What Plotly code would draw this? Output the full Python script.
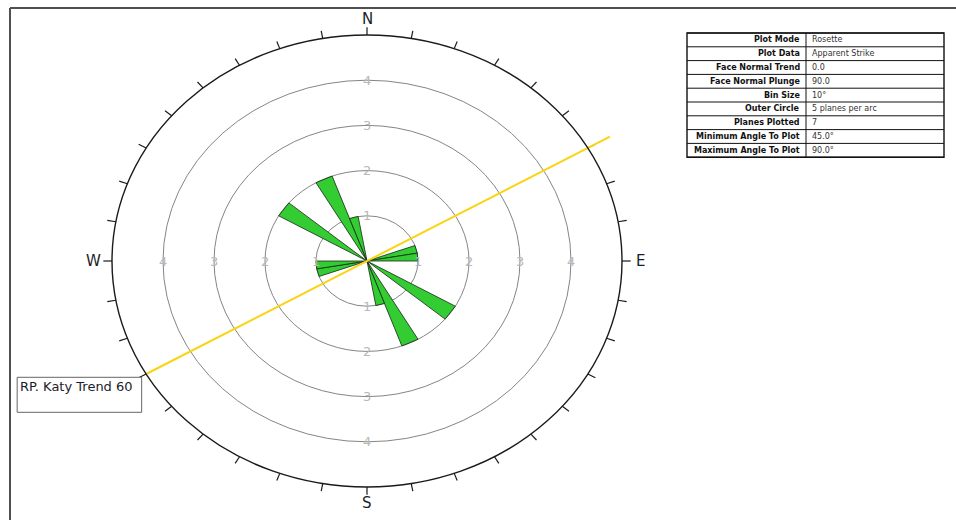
import numpy as np
import plotly.graph_objects as go

# Rosette bins: apparent strike azimuth (deg, start of bin) and number of planes
bin_starts = [70, 80, 300, 330, 340]
bin_counts = [1, 1, 2, 2, 1]
bin_size = 10

# Concentric rings (planes per arc) and outer circle value
ring_values = [1, 2, 3, 4]
outer_value = 5

# Trend line
trend_azimuth = 60
trend_reach = [-5.0, 5.5]
trend_label = "RP. Katy Trend 60"

# Compass
compass_labels = ["N", "E", "S", "W"]
compass_azimuths = [0, 90, 180, 270]
tick_step = 10

# Info table
table_keys = ["Plot Mode", "Plot Data", "Face Normal Trend", "Face Normal Plunge",
              "Bin Size", "Outer Circle", "Planes Plotted",
              "Minimum Angle To Plot", "Maximum Angle To Plot"]
table_values = ["Rosette", "Apparent Strike", "0.0", "90.0", "10°",
                "5 planes per arc", "7", "45.0°", "90.0°"]

W, H = 956, 520
CX, CY = 367.0, 261.0        # pixel position of the net centre
UX, UY = 51.0, 45.2          # pixels per unit along x and y


def to_xy(r, az):
    a = np.radians(az)
    return r * np.sin(a), r * np.cos(a)


fig = go.Figure()

# Rose petals (bidirectional: each bin drawn with its opposite)
for start, count in zip(bin_starts, bin_counts):
    for offset in (0, 180):
        a0 = start + offset
        a1 = a0 + bin_size
        x0, y0 = to_xy(count, a0)
        x1, y1 = to_xy(count, a1)
        fig.add_trace(go.Scatter(
            x=[0, x0, x1, 0], y=[0, y0, y1, 0], mode="lines",
            fill="toself", fillcolor="#33cc33",
            line=dict(color="#142814", width=0.8), hoverinfo="skip"))

# Rings
for r in ring_values:
    fig.add_shape(type="circle", xref="x", yref="y", x0=-r, x1=r, y0=-r, y1=r,
                  line=dict(color="#858585", width=1), layer="below")
fig.add_shape(type="circle", xref="x", yref="y", x0=-outer_value, x1=outer_value,
              y0=-outer_value, y1=outer_value, line=dict(color="#1a1a1a", width=1.4))

# Ticks on the outer circle
tx, ty = [], []
for az in range(0, 360, tick_step):
    xa, ya = to_xy(outer_value, az)
    xb, yb = to_xy(outer_value + 0.17, az)
    tx += [xa, xb, None]
    ty += [ya, yb, None]
fig.add_trace(go.Scatter(x=tx, y=ty, mode="lines",
                         line=dict(color="#1a1a1a", width=1.2), hoverinfo="skip"))

# Trend line
lx, ly = zip(*[to_xy(r, trend_azimuth) for r in trend_reach])
fig.add_trace(go.Scatter(x=list(lx), y=list(ly), mode="lines",
                         line=dict(color="#fad414", width=2), hoverinfo="skip"))

annotations = []

# Ring labels along the four compass directions
for r in ring_values:
    for az in compass_azimuths:
        x, y = to_xy(r, az)
        annotations.append(dict(x=x, y=y, text=str(r), showarrow=False,
                                xanchor="center", yanchor="middle",
                                font=dict(family="DejaVu Sans", size=13, color="#b8b8b8")))

# Compass letters
for lab, az in zip(compass_labels, compass_azimuths):
    x, y = to_xy(outer_value + 0.36, az)
    annotations.append(dict(x=x, y=y, text=lab, showarrow=False,
                            xanchor="center", yanchor="middle",
                            font=dict(family="DejaVu Sans", size=15, color="#1c1c2a")))

# Trend label box anchored at the lower end of the trend line
ex, ey = lx[0], ly[0]
fig.add_shape(type="rect", xref="x", yref="y", xsizemode="pixel", ysizemode="pixel",
              xanchor=ex, yanchor=ey, x0=-129, x1=-4.5, y0=-3.3, y1=-38.3,
              line=dict(color="#666666", width=1), fillcolor="white")
annotations.append(dict(x=ex, y=ey, xshift=-128, yshift=-3, text=trend_label,
                        showarrow=False, xanchor="left", yanchor="top",
                        font=dict(family="DejaVu Sans", size=13, color="#1c1c2a")))

# Info table (pixel layout converted to paper fractions)
t_left, t_mid, t_right = 687, 806, 944
t_top, row_h = 33, 13.8
n_rows = len(table_keys)
px = lambda v: v / W
py = lambda v: 1 - v / H
for i in range(n_rows + 1):
    yy = t_top + i * row_h
    fig.add_shape(type="line", xref="paper", yref="paper", x0=px(t_left), x1=px(t_right),
                  y0=py(yy), y1=py(yy), line=dict(color="#111111", width=1))
fig.add_shape(type="rect", xref="paper", yref="paper", x0=px(t_left), x1=px(t_right),
              y0=py(t_top), y1=py(t_top + n_rows * row_h),
              line=dict(color="#111111", width=1.4))
fig.add_shape(type="line", xref="paper", yref="paper", x0=px(t_mid), x1=px(t_mid),
              y0=py(t_top), y1=py(t_top + n_rows * row_h),
              line=dict(color="#111111", width=1))
for i, (k, v) in enumerate(zip(table_keys, table_values)):
    yc = py(t_top + (i + 0.5) * row_h)
    annotations.append(dict(x=px(t_mid - 4), y=yc, xref="paper", yref="paper",
                            text="<b>" + k + "</b>", showarrow=False,
                            xanchor="right", yanchor="middle",
                            font=dict(family="DejaVu Sans", size=8, color="#111111")))
    annotations.append(dict(x=px(t_mid + 4), y=yc, xref="paper", yref="paper",
                            text=v, showarrow=False, xanchor="left", yanchor="middle",
                            font=dict(family="DejaVu Sans", size=8, color="#333333")))

# Page frame
fig.add_shape(type="line", xref="paper", yref="paper", x0=px(10), x1=px(10),
              y0=0, y1=py(8), line=dict(color="#505050", width=2))
fig.add_shape(type="line", xref="paper", yref="paper", x0=px(10), x1=1,
              y0=py(8), y1=py(8), line=dict(color="#505050", width=2))

fig.update_layout(
    width=W, height=H, margin=dict(l=0, r=0, t=0, b=0),
    paper_bgcolor="white", plot_bgcolor="white", showlegend=False,
    annotations=annotations,
    xaxis=dict(visible=False, range=[-CX / UX, (W - CX) / UX], fixedrange=True),
    yaxis=dict(visible=False, range=[-(H - CY) / UY, CY / UY], fixedrange=True),
)

fig.write_html("out.html")
